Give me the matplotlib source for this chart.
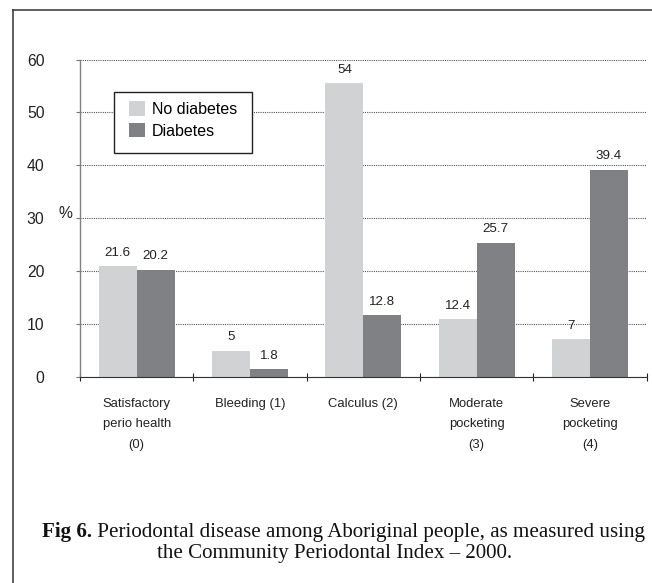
import matplotlib
matplotlib.use("Agg")
import matplotlib.pyplot as plt
from matplotlib.lines import Line2D
from matplotlib.patches import Rectangle
import numpy as np

# ---- data ----
categories = ["Satisfactory\nperio health\n(0)", "Bleeding (1)", "Calculus (2)",
              "Moderate\npocketing\n(3)", "Severe\npocketing\n(4)"]
series_names = ["No diabetes", "Diabetes"]
# bar heights as drawn in the picture
no_diabetes_height = [20.9, 5.0, 55.5, 10.9, 7.1]
diabetes_height = [20.3, 1.45, 11.65, 25.3, 39.2]
# value labels as printed
no_diabetes_label = ["21.6", "5", "54", "12.4", "7"]
diabetes_label = ["20.2", "1.8", "12.8", "25.7", "39.4"]
y_ticks = [0, 10, 20, 30, 40, 50, 60]

LIGHT = "#d1d2d4"
DARK = "#808184"
SANS = ["Liberation Sans", "DejaVu Sans"]
SERIF = ["Liberation Serif", "DejaVu Serif"]

W, H = 652, 583
fig = plt.figure(figsize=(W / 100, H / 100), dpi=100)
fig.patch.set_facecolor("white")

def fx(px):
    return px / W

def fy(py):
    return 1 - py / H

ax_left, ax_right, ax_top, ax_bot = 80, 646.7, 59.5, 377
ax = fig.add_axes([fx(ax_left), fy(ax_bot), (ax_right - ax_left) / W, (ax_bot - ax_top) / H])

x = np.arange(len(categories))
bw = 0.335
b1 = ax.bar(x - bw / 2, no_diabetes_height, bw, color=LIGHT, label=series_names[0], zorder=3)
b2 = ax.bar(x + bw / 2, diabetes_height, bw, color=DARK, label=series_names[1], zorder=3)

for bars, labels in ((b1, no_diabetes_label), (b2, diabetes_label)):
    for rect, lab in zip(bars, labels):
        ax.annotate(lab, (rect.get_x() + rect.get_width() / 2, rect.get_height()),
                    xytext=(0, 5.5), textcoords="offset points", ha="center", va="bottom",
                    fontsize=9.6, family=SANS, color="#222222", zorder=4)

ax.set_xlim(-0.5, len(categories) - 0.5)
ax.set_ylim(0, 60)
ax.set_yticks(y_ticks)
ax.set_yticklabels([str(v) for v in y_ticks], family=SANS, fontsize=11.3, color="#222222")
ax.yaxis.grid(True, linestyle=(0, (1, 1)), color="#555555", linewidth=0.8, zorder=1)
ax.tick_params(axis="y", length=3, width=0.8, color="#777777", pad=22.5)

ax.set_xticks(x)
ax.set_xticklabels(categories, family=SANS, fontsize=9.4, color="#222222", linespacing=1.95)
ax.set_xticks(np.arange(-0.5, len(categories)), minor=True)
ax.tick_params(axis="x", which="major", length=0, pad=15)
ax.tick_params(axis="x", which="minor", length=6, width=0.8, direction="inout", color="#222222")

for s in ("top", "right"):
    ax.spines[s].set_visible(False)
ax.spines["left"].set_color("#808080")
ax.spines["left"].set_linewidth(1.0)
ax.spines["bottom"].set_color("#333333")
ax.spines["bottom"].set_linewidth(0.8)
ax.spines["bottom"].set_zorder(5)

ax.text(-0.0265, 0.5156, "%", transform=ax.transAxes, ha="center", va="center",
        fontsize=11.3, family=SANS, color="#222222")

# legend box (drawn as its own frame) and legend entries
box = Rectangle((fx(113.5), fy(152.5)), (251.5 - 113.5) / W, (152.5 - 91.7) / H,
                transform=fig.transFigure, facecolor="white",
                edgecolor="#222222", linewidth=1.0, zorder=6, clip_on=False)
ax.add_patch(box)
leg = ax.legend(loc="upper left", bbox_to_anchor=(fx(129.3), fy(101.5)),
                bbox_transform=fig.transFigure, borderaxespad=0,
                prop={"family": SANS, "size": 11.5}, frameon=False,
                handlelength=0.96, handleheight=1.0,
                handletextpad=0.45, labelspacing=0.38, borderpad=0)
leg.set_zorder(7)

# outer border (top and left only, rest cut off)
fig.add_artist(Line2D([fx(12.7), 1.0], [fy(10), fy(10)], color="#333333", lw=1.1))
fig.add_artist(Line2D([fx(12.7), fx(12.7)], [fy(10), 0.0], color="#333333", lw=1.1))

# caption
cap_size = 15.1
t1 = fig.text(fx(42), fy(536.5), "Fig 6.", family=SERIF, fontweight="bold",
              fontsize=cap_size, va="baseline", ha="left", color="#111111")
fig.canvas.draw()
r = fig.canvas.get_renderer()
bb = t1.get_window_extent(r)
fig.text(bb.x1 / W, fy(536.5), " Periodontal disease among Aboriginal people, as measured using",
         family=SERIF, fontsize=cap_size, va="baseline", ha="left", color="#111111")
fig.text(fx(335), fy(558), "the Community Periodontal Index \u2013 2000.",
         family=SERIF, fontsize=cap_size, va="baseline", ha="center", color="#111111")

fig.savefig("out.png", dpi=100, facecolor="white")
